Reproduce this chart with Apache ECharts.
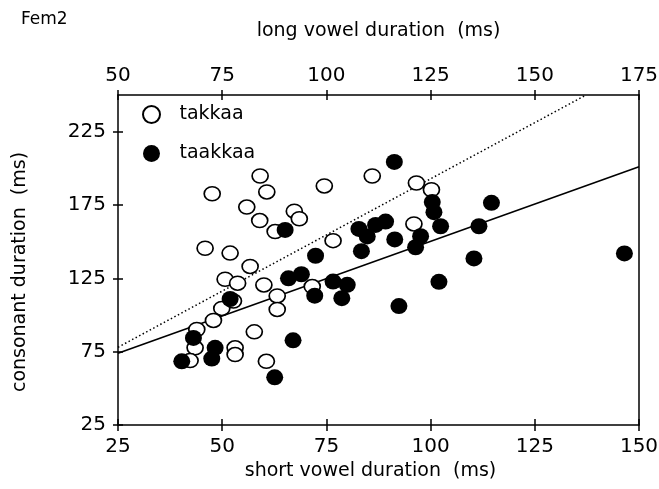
<!DOCTYPE html>
<html>
<head>
<meta charset="utf-8">
<script src="https://cdn.jsdelivr.net/npm/echarts@6/dist/echarts.min.js"></script>
<style>
html,body{margin:0;padding:0;background:#fff;}
#chart{width:659px;height:489px;}
</style>
</head>
<body>
<div id="chart"></div>
<script>
// short vowel duration (ms), consonant duration (ms)
const takkaa = [
  [47.6,182.7],[59.1,194.8],[60.7,183.9],[55.9,173.6],[59.0,164.4],[67.3,170.8],
  [68.5,165.6],[62.7,156.9],[74.5,188.0],[45.9,145.5],[51.9,142.2],[56.7,133.1],
  [50.7,124.4],[53.7,121.7],[60.0,120.5],[71.6,119.4],[76.6,150.7],[86.0,194.8],
  [96.6,190.0],[100.2,185.4],[96.0,162.1],[63.2,113.0],[63.2,103.8],[49.9,104.5],
  [47.9,96.3],[43.9,90.1],[43.5,77.6],[42.3,68.9],[53.1,77.6],[53.1,73.0],
  [57.7,88.5],[60.6,68.4],[52.7,109.5]
];
const taakkaa = [
  [91.3,204.4],[100.4,177.0],[100.8,170.1],[102.4,160.5],[114.6,176.5],[111.6,160.5],
  [110.4,138.6],[102.0,122.6],[97.6,153.7],[96.4,146.2],[91.4,151.5],[83.4,143.5],
  [82.8,158.7],[84.8,153.6],[86.8,161.4],[89.2,163.7],[65.1,158.0],[72.4,140.4],
  [65.9,125.0],[69.0,127.8],[72.2,113.2],[76.6,122.8],[80.0,120.6],[78.7,111.5],
  [92.4,106.1],[67.0,82.7],[62.6,57.5],[51.9,110.9],[43.1,84.4],[48.3,77.6],
  [47.5,70.3],[40.3,68.4],[146.5,142.0]
];
const fitTakkaa = [[25,78],[137.3,250]];
const fitTaakkaa = [[25,74],[150,201]];
const xTicks = [25,50,75,100,125,150];
const topTicks = [50,75,100,125,150,175];
const yTicks = [25,75,125,175,225];

const FONT = 'DejaVu Sans';
const lineStyle = {color:'#000', width:1.5};
const labelStyle = {color:'#000', fontFamily:FONT, fontSize:20};
const nameStyle = {color:'#000', fontFamily:FONT, fontSize:19};

const chart = echarts.init(document.getElementById('chart'), null, {renderer:'canvas'});
chart.setOption({
  animation:false,
  backgroundColor:'#fff',
  title:{text:'Fem2', left:16, top:6, textStyle:{color:'#000', fontFamily:FONT, fontSize:17, fontWeight:'normal'}},
  legend:{
    orient:'vertical', left:137, top:100, itemGap:20, itemWidth:18, itemHeight:17,
    data:['takkaa','taakkaa'],
    textStyle:{color:'#000', fontFamily:FONT, fontSize:19, padding:[0,0,0,14]}
  },
  grid:{left:118, right:20, top:95, bottom:64, containLabel:false, outerBoundsMode:'none'},
  xAxis:[
    {type:'value', position:'bottom', min:25, max:150,
     name:'short vowel duration  (ms)', nameLocation:'middle', nameGap:32,
     nameTextStyle:{...nameStyle, padding:[0,16,0,0]},
     axisLine:{show:true, lineStyle:lineStyle},
     axisTick:{show:true, inside:false, length:6, customValues:xTicks, lineStyle:lineStyle},
     axisLabel:{customValues:xTicks, margin:12, ...labelStyle},
     splitLine:{show:false}},
    {type:'value', position:'bottom', min:25, max:150,
     axisLine:{show:false},
     axisTick:{show:true, inside:true, length:6, customValues:xTicks, lineStyle:lineStyle},
     axisLabel:{show:false}, splitLine:{show:false}},
    {type:'value', position:'top', min:50, max:175,
     name:'long vowel duration  (ms)', nameLocation:'middle', nameGap:54, nameTextStyle:nameStyle,
     axisLine:{show:true, lineStyle:lineStyle},
     axisTick:{show:true, inside:false, length:5, customValues:topTicks, lineStyle:lineStyle},
     axisLabel:{customValues:topTicks, margin:9, ...labelStyle},
     splitLine:{show:false}},
    {type:'value', position:'top', min:50, max:175,
     axisLine:{show:false},
     axisTick:{show:true, inside:true, length:5, customValues:topTicks, lineStyle:lineStyle},
     axisLabel:{show:false}, splitLine:{show:false}}
  ],
  yAxis:[
    {type:'value', position:'left', min:25, max:250,
     name:'consonant duration  (ms)', nameLocation:'middle', nameGap:88,
     nameTextStyle:{...nameStyle, padding:[0,24,0,0]},
     axisLine:{show:true, lineStyle:lineStyle},
     axisTick:{show:true, inside:false, length:5, customValues:yTicks, lineStyle:lineStyle},
     axisLabel:{customValues:yTicks, margin:12, ...labelStyle},
     splitLine:{show:false}},
    {type:'value', position:'left', min:25, max:250,
     axisLine:{show:false},
     axisTick:{show:true, inside:true, length:5, customValues:yTicks, lineStyle:lineStyle},
     axisLabel:{show:false}, splitLine:{show:false}},
    {type:'value', position:'right', min:25, max:250,
     axisLine:{show:true, lineStyle:lineStyle},
     axisTick:{show:false}, axisLabel:{show:false}, splitLine:{show:false}}
  ],
  series:[
    {name:'takkaa', type:'scatter', data:takkaa, symbol:'circle', symbolSize:[16,14],
     itemStyle:{color:'#fff', borderColor:'#000', borderWidth:1.6, opacity:1}, z:3},
    {name:'taakkaa', type:'scatter', data:taakkaa, symbol:'circle', symbolSize:[17,16],
     itemStyle:{color:'#000', borderColor:'#000', borderWidth:0, opacity:1}, z:4},
    {name:'fitTakkaa', type:'line', data:fitTakkaa, symbol:'none',
     lineStyle:{color:'#000', width:1.5, type:[1.5,2.5]}, z:2},
    {name:'fitTaakkaa', type:'line', data:fitTaakkaa, symbol:'none',
     lineStyle:{color:'#000', width:1.6, type:'solid'}, z:2}
  ]
});
</script>
</body>
</html>
